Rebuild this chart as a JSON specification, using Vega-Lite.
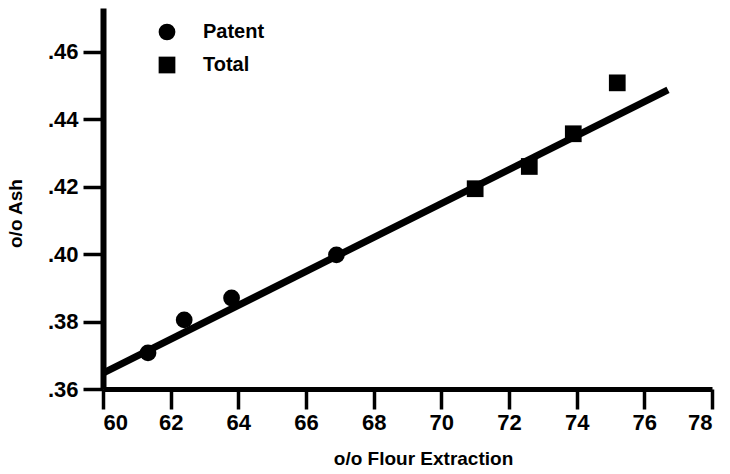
{
  "$schema": "https://vega.github.io/schema/vega-lite/v6.json",
  "width": 609,
  "height": 381,
  "autosize": "none",
  "padding": {"left": 103, "top": 8, "right": 18, "bottom": 85},
  "background": "white",
  "config": {
    "view": {"stroke": null},
    "font": "Liberation Sans",
    "axis": {
      "grid": false,
      "domainColor": "black",
      "tickColor": "black",
      "labelColor": "black",
      "titleColor": "black",
      "labelFont": "Liberation Sans",
      "titleFont": "Liberation Sans",
      "labelFontWeight": "bold",
      "titleFontWeight": "bold",
      "labelFontSize": 22,
      "titleFontSize": 19,
      "tickSize": 20,
      "tickWidth": 3.5
    }
  },
  "datasets": {
    "points": [
      {"extraction": 61.33, "ash": 0.3707, "series": "Patent"},
      {"extraction": 62.4, "ash": 0.3805, "series": "Patent"},
      {"extraction": 63.8, "ash": 0.387, "series": "Patent"},
      {"extraction": 66.9, "ash": 0.3998, "series": "Patent"},
      {"extraction": 71.0, "ash": 0.4194, "series": "Total"},
      {"extraction": 72.6, "ash": 0.426, "series": "Total"},
      {"extraction": 73.9, "ash": 0.4357, "series": "Total"},
      {"extraction": 75.2, "ash": 0.4508, "series": "Total"}
    ],
    "fit": [
      {"extraction": 60, "ash": 0.3647},
      {"extraction": 76.7, "ash": 0.4487}
    ]
  },
  "layer": [
    {
      "data": {"name": "fit"},
      "mark": {"type": "line", "color": "black", "strokeWidth": 7, "strokeCap": "butt"},
      "encoding": {
        "x": {
          "field": "extraction", "type": "quantitative",
          "scale": {"domain": [60, 78], "nice": false, "zero": false},
          "axis": {
            "values": [60, 62, 64, 66, 68, 70, 72, 74, 76, 78],
            "domainWidth": 5,
            "labelPadding": 3,
            "title": "o/o Flour Extraction",
            "titlePadding": 16,
            "titleX": 320
          }
        },
        "y": {
          "field": "ash", "type": "quantitative",
          "scale": {"domain": [0.36, 0.473], "nice": false, "zero": false},
          "axis": {
            "values": [0.36, 0.38, 0.4, 0.42, 0.44, 0.46],
            "labelExpr": "substring(format(datum.value, '.2f'), 1)",
            "domainWidth": 6,
            "labelPadding": 5,
            "title": "o/o Ash",
            "titlePadding": 22,
            "titleY": 205
          }
        }
      }
    },
    {
      "data": {"name": "points"},
      "mark": {"type": "point", "filled": true, "color": "black", "opacity": 1, "size": 280},
      "encoding": {
        "x": {"field": "extraction", "type": "quantitative"},
        "y": {"field": "ash", "type": "quantitative"},
        "shape": {
          "field": "series", "type": "nominal",
          "scale": {"domain": ["Patent", "Total"], "range": ["circle", "square"]},
          "legend": {
            "orient": "none",
            "legendX": 54,
            "legendY": 14,
            "title": null,
            "padding": 0,
            "labelFont": "Liberation Sans",
            "labelFontSize": 20,
            "labelFontWeight": "bold",
            "labelColor": "black",
            "labelOffset": 26,
            "symbolSize": 280,
            "symbolFillColor": "black",
            "symbolStrokeColor": "black",
            "symbolStrokeWidth": 0,
            "rowPadding": 13
          }
        }
      }
    }
  ]
}
